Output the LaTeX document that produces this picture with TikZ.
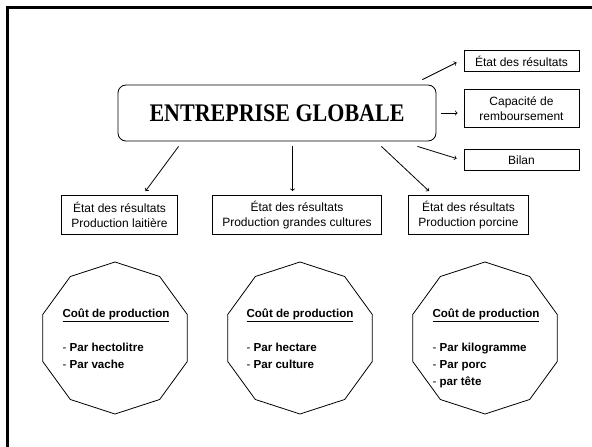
\documentclass[tikz,border=0pt]{standalone}
\usepackage{graphicx}
\usepackage{fontspec}
\setmainfont{Liberation Sans}
\newfontfamily\titlefont{Liberation Serif}
\usetikzlibrary{arrows,shapes.geometric,positioning}

\begin{document}
\begin{tikzpicture}[x=1pt, y=-1pt, line width=0.8pt,
  font=\fontsize{12}{15.5}\selectfont,
  mainbox/.style={draw, rounded corners=8pt, minimum width=318pt, minimum height=56pt,
    font=\titlefont\bfseries\fontsize{22}{26}\selectfont},
  sidebox/.style={draw, minimum width=115pt, minimum height=21pt, inner sep=2pt, align=center},
  resbox/.style={draw, minimum height=39pt, inner xsep=10pt, inner ysep=2pt, align=center},
  decagon/.style={draw, regular polygon, regular polygon sides=10, regular polygon rotate=18,
    minimum size=152pt, inner sep=0pt},
  costtext/.style={anchor=north, align=left, font=\bfseries\fontsize{11.6}{17}\selectfont},
  link/.style={->}
]
\useasboundingbox (0,0) rectangle (592,447);

%------------- Frame
	\draw[line width=3.3pt] (7.3,447) -- (7.3,7.3) -- (592,7.3);

%------------- Global
	\node[mainbox] (G) at (277,113) {\scalebox{1}[1.15]{ENTREPRISE GLOBALE}};

%------------- Right side
	\node[sidebox] (R_Etat) at (521.5,61) {État des résultats};
	\node[sidebox, minimum height=38pt] (R_Capacite) at (521.5,108.5) {Capacité de\\remboursement};
	\node[sidebox] (R_Bilan) at (521.5,160) {Bilan};

	\draw[link] ([shift={(-14pt,5pt)}]G.north east) -- ([shift={(-7pt,-1.5pt)}]R_Etat.west);
	\draw[link, shorten <=5pt, shorten >=6pt] (G.east) -- (G.east -| R_Capacite.west);
	\draw[link] ([shift={(-19pt,-5pt)}]G.south east) -- ([shift={(-7pt,1.5pt)}]R_Bilan.west);

%------------- Results
	\node[resbox] (B_Lait) at (119.5,215) {État des résultats\\Production laitière};
	\node[resbox] (B_Cult) at (297,215) {État des résultats\\Production grandes cultures};
	\node[resbox] (B_Porc) at (468.5,215) {État des résultats\\Production porcine};

	\draw[link] ([shift={(61pt,-5pt)}]G.south west) -- ([shift={(26pt,4pt)}]B_Lait.north);
	\draw[link] ([shift={(-4.5pt,-5pt)}]B_Cult.north |- G.south) -- ([shift={(-4.5pt,4pt)}]B_Cult.north);
	\draw[link] ([shift={(-55pt,-5pt)}]G.south east) -- ([shift={(-39.5pt,4pt)}]B_Porc.north);

%------------- Costs
	\node[decagon] (P_Lait) at (115,338) {};
	\node[decagon] (P_Cult) at (300,338) {};
	\node[decagon] (P_Porc) at (485,338) {};

	\node[costtext] (T_Lait) at (116,305) {\underline{Coût de production}\\[17pt]
		\textmd{-} Par hectolitre\\ \textmd{-} Par vache};
	\node[costtext] (T_Cult) at (300,305) {\underline{Coût de production}\\[17pt]
		\textmd{-} Par hectare\\ \textmd{-} Par culture};
	\node[costtext] (T_Porc) at (486,305) {\underline{Coût de production}\\[17pt]
		\textmd{-} Par kilogramme\\ \textmd{-} Par porc\\ \textmd{-} par tête};

\end{tikzpicture}
\end{document}
